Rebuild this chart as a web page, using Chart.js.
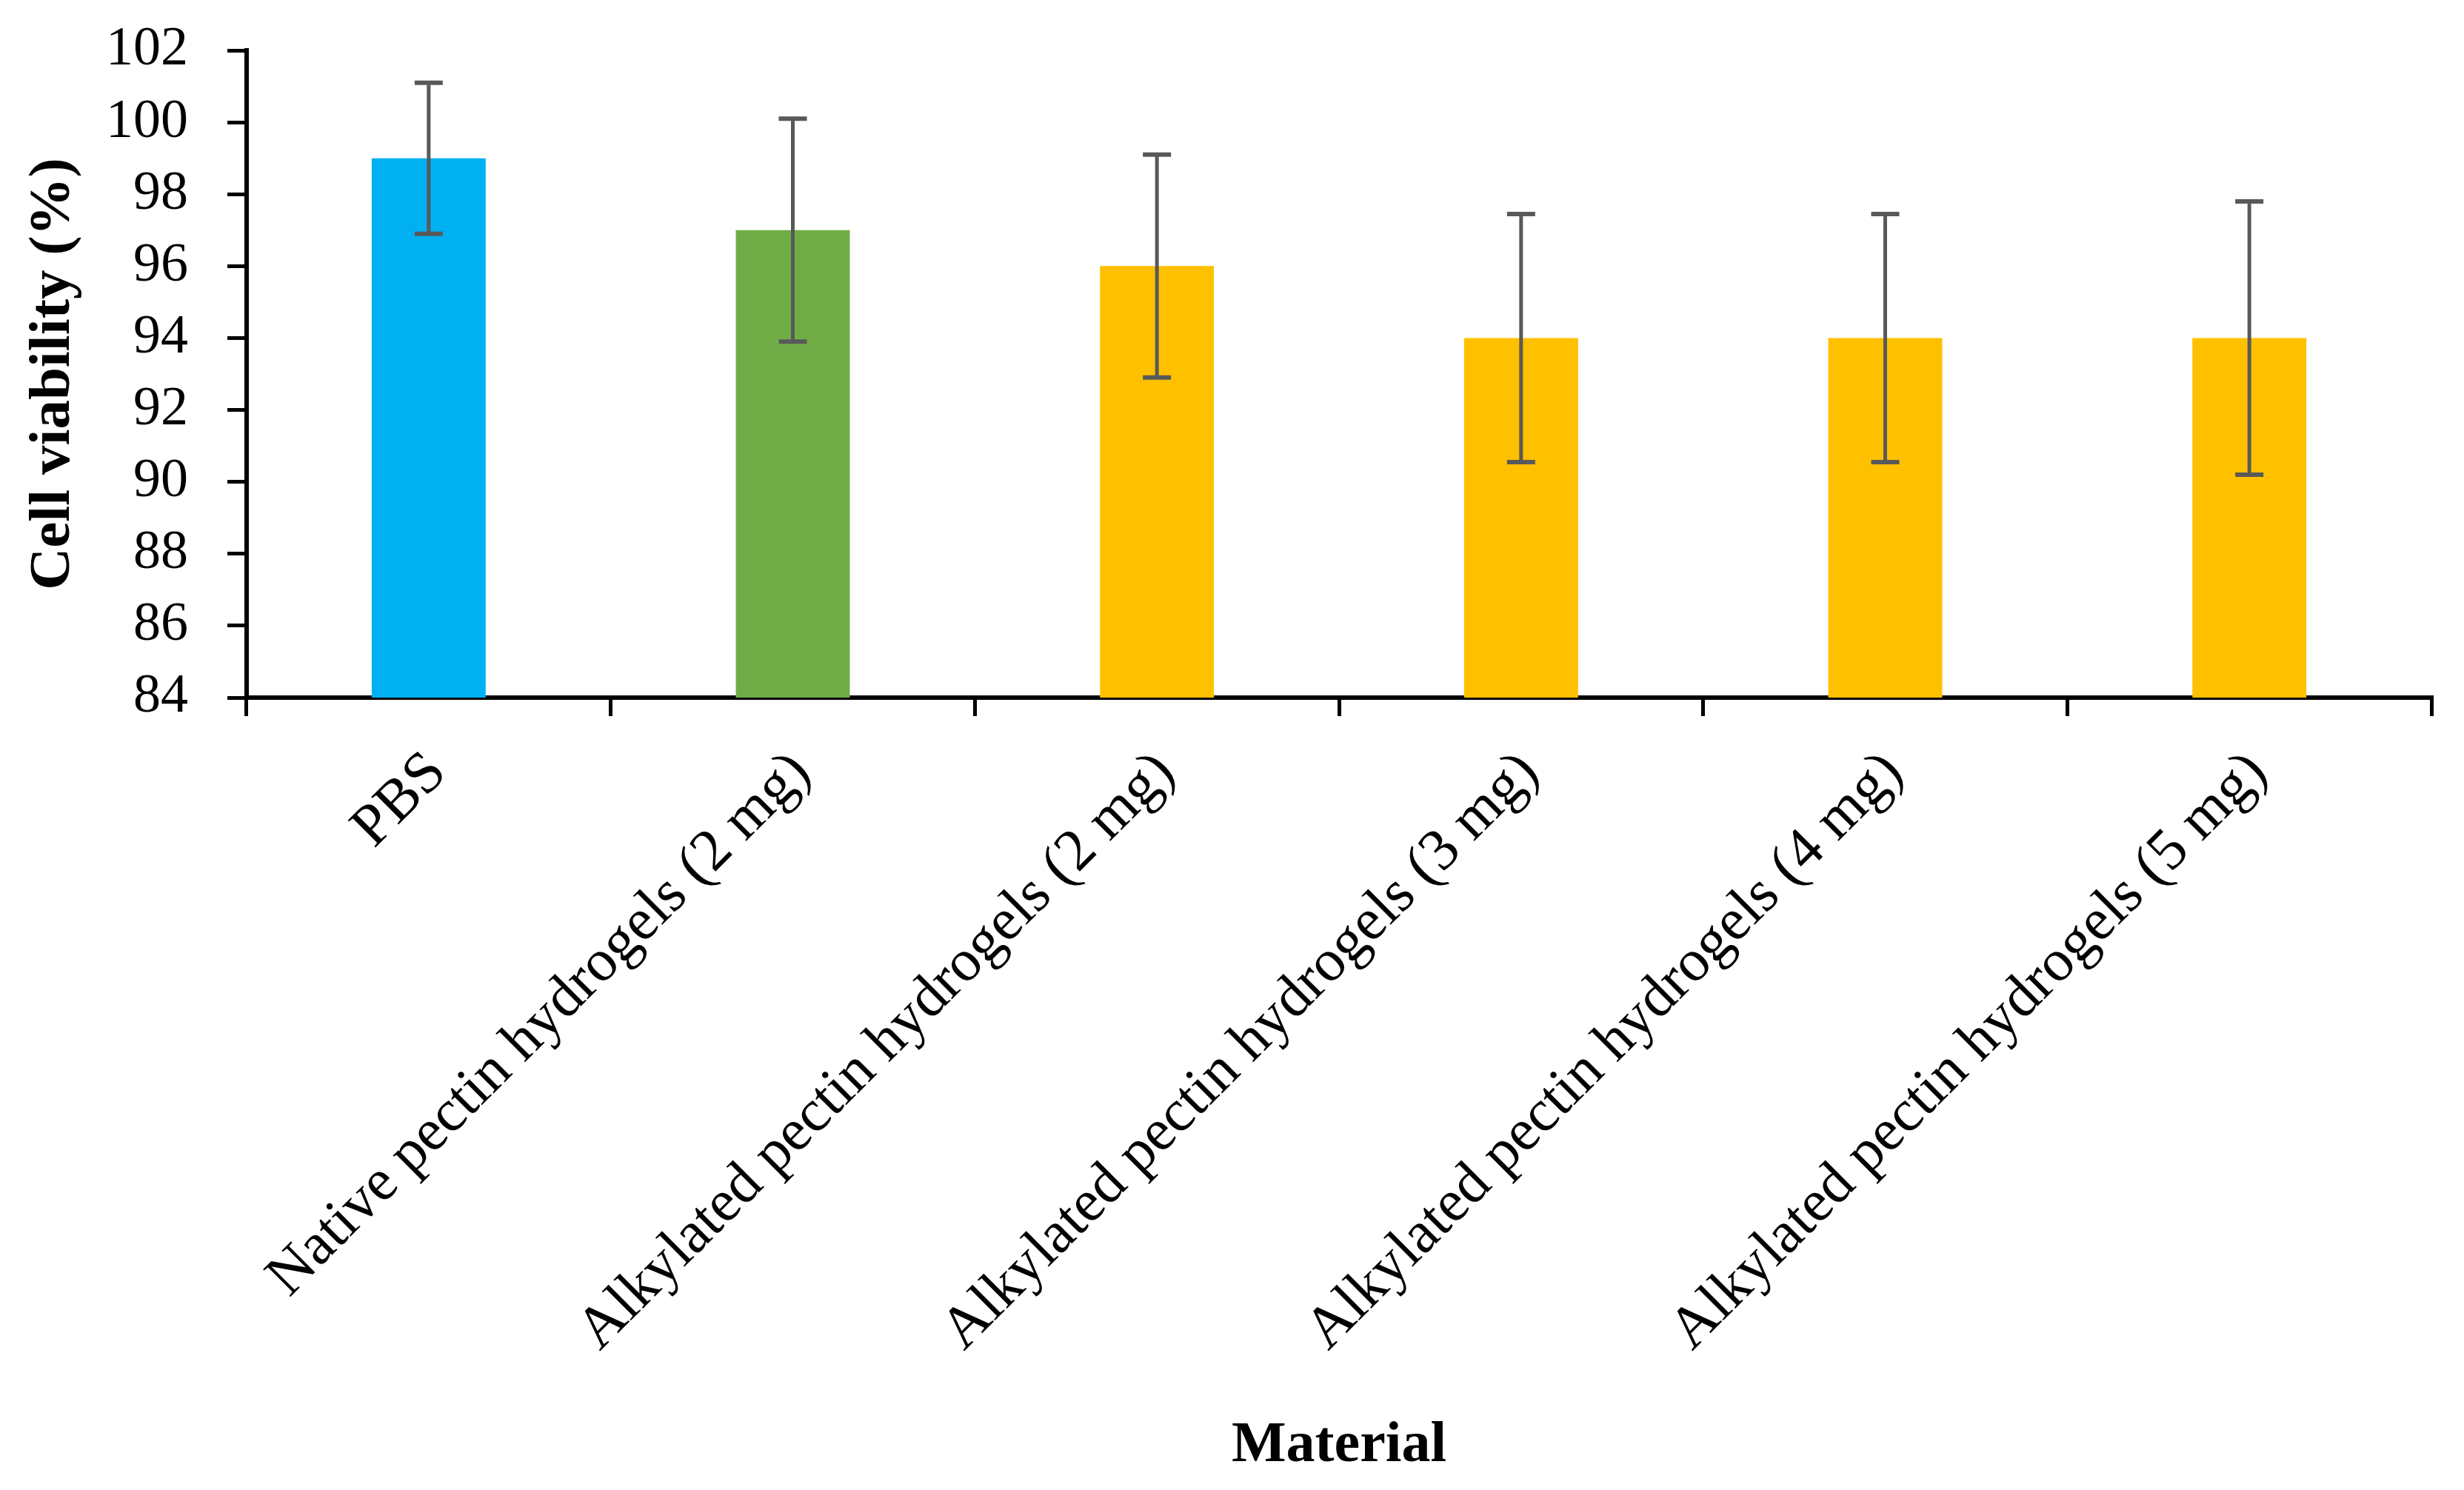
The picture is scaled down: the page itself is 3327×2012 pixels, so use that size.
<!DOCTYPE html>
<html>
<head>
<meta charset="utf-8">
<script src="https://cdn.jsdelivr.net/npm/chart.js@4.4.1/dist/chart.umd.min.js"></script>
<style>
  html, body { margin: 0; padding: 0; background: #fff; overflow: hidden; }
  #wrap { width: 3327px; height: 2012px; }
</style>
</head>
<body>
<div id="wrap"><canvas id="chart-viability"></canvas></div>
<script>
// ─── data ───
const materials = [
  'PBS',
  'Native pectin hydrogels (2 mg)',
  'Alkylated pectin hydrogels (2 mg)',
  'Alkylated pectin hydrogels (3 mg)',
  'Alkylated pectin hydrogels (4 mg)',
  'Alkylated pectin hydrogels (5 mg)'
];
const viability = [99, 97, 96, 94, 94, 94];
const viabilityErr = [2.1, 3.1, 3.1, 3.45, 3.45, 3.8];
const barColors = ['#00b0f0', '#70ad47', '#ffc000', '#ffc000', '#ffc000', '#ffc000'];
const yTicks = [84, 86, 88, 90, 92, 94, 96, 98, 100, 102];

const FONT = "'Liberation Serif', 'DejaVu Serif', serif";

// error bars drawn through the y scale
const errorBars = {
  id: 'errorBars',
  afterDatasetsDraw(chart) {
    const { ctx, scales: { y } } = chart;
    const meta = chart.getDatasetMeta(0);
    ctx.save();
    ctx.strokeStyle = '#595959';
    meta.data.forEach((bar, i) => {
      const v = viability[i], e = viabilityErr[i];
      const top = y.getPixelForValue(v + e);
      const bot = y.getPixelForValue(v - e);
      const cap = 19;
      ctx.lineWidth = 5;
      ctx.beginPath();
      ctx.moveTo(bar.x, top); ctx.lineTo(bar.x, bot);
      ctx.stroke();
      ctx.lineWidth = 6;
      ctx.beginPath();
      ctx.moveTo(bar.x - cap, top); ctx.lineTo(bar.x + cap, top);
      ctx.moveTo(bar.x - cap, bot); ctx.lineTo(bar.x + cap, bot);
      ctx.stroke();
    });
    ctx.restore();
  }
};

new Chart(document.getElementById('chart-viability'), {
  type: 'bar',
  data: {
    labels: materials,
    datasets: [{
      label: 'Cell viability (%)',
      data: viability,
      backgroundColor: barColors,
      borderWidth: 0,
      barPercentage: 0.313,
      categoryPercentage: 1.0,
    }]
  },
  options: {
    responsive: true,
    maintainAspectRatio: false,
    animation: false,
    layout: { padding: { top: 68, right: 44, left: 0, bottom: 0 } },
    plugins: {
      legend: { display: false },
      tooltip: { enabled: false }
    },
    scales: {
      x: {
        afterFit: (axis) => { axis.height = 1070; axis.paddingLeft = 0; axis.paddingRight = 0; },
        grid: {
          drawOnChartArea: false,
          color: '#000',
          lineWidth: 5,
          tickLength: 25,
          offset: true
        },
        border: { color: '#000', width: 6 },
        ticks: {
          color: '#000',
          font: { size: 80, family: FONT },
          minRotation: 45,
          maxRotation: 45,
          padding: 30,
          labelOffset: 12
        },
        title: {
          display: true,
          text: 'Material',
          color: '#000',
          font: { size: 78, family: FONT, weight: 'bold' },
          padding: { top: 0, bottom: 12 }
        }
      },
      y: {
        min: 84,
        max: 102,
        afterBuildTicks: (axis) => { axis.ticks = yTicks.map(v => ({ value: v })); },
        afterFit: (axis) => { axis.width = 333; axis.paddingTop = 0; axis.paddingBottom = 0; },
        grid: {
          drawOnChartArea: false,
          color: '#000',
          lineWidth: 5,
          tickLength: 26
        },
        border: { color: '#000', width: 6 },
        ticks: {
          color: '#000',
          font: { size: 74, family: FONT },
          padding: 53
        },
        title: {
          display: true,
          text: 'Cell viability (%)',
          color: '#000',
          font: { size: 79, family: FONT, weight: 'bold' },
          padding: { top: 25, bottom: 0 }
        }
      }
    }
  },
  plugins: [errorBars]
});
</script>
</body>
</html>
